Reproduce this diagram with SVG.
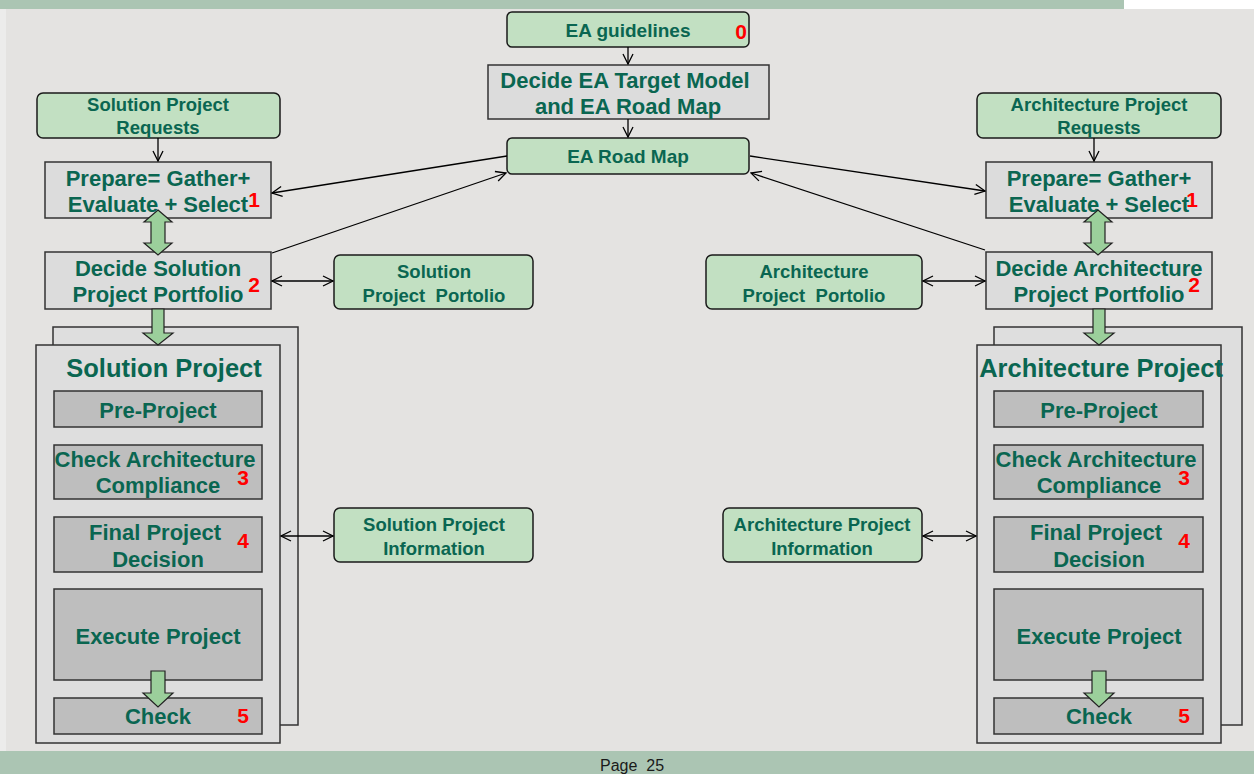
<svg xmlns="http://www.w3.org/2000/svg" width="1254" height="774" viewBox="0 0 1254 774">
  <style>
    .t { font-family: "Liberation Sans", Arial, sans-serif; font-weight: bold; fill: #0A6651; text-anchor: middle; }
    .s { font-size: 18.5px; }
    .m { font-size: 22px; }
    .num { font-family: "Liberation Sans", Arial, sans-serif; font-weight: bold; fill: #FF0000; font-size: 21px; text-anchor: middle; }
    .g { fill: #C2E0C2; stroke: #1A1A1A; stroke-width: 1.5; }
    .box { fill: #DCDCDC; stroke: #333333; stroke-width: 1.5; }
    .inner { fill: #BEBEBE; stroke: #333333; stroke-width: 1.5; }
    .frame { fill: #DEDEDE; stroke: #333333; stroke-width: 1.5; }
    .ln { fill: none; stroke: #000; stroke-width: 1.3; }
    .blk { fill: #9BCF9B; stroke: #222; stroke-width: 1.2; }
  </style>
  <defs>
    <marker id="arr" viewBox="0 0 12 12" refX="11" refY="6" markerWidth="12" markerHeight="12" markerUnits="userSpaceOnUse" orient="auto-start-reverse">
      <path d="M1,1 L11,6 L1,11" fill="none" stroke="#000" stroke-width="1.3"/>
    </marker>
  </defs>

  <!-- page background and bands -->
  <rect x="0" y="0" width="1254" height="774" fill="#E4E3E1"/>
  <rect x="0" y="0" width="6" height="774" fill="#ECECEB"/>
  <rect x="0" y="0" width="1124" height="9" fill="#ABC5B3"/>
  <rect x="1124" y="0" width="130" height="9" fill="#FFFFFF"/>
  <rect x="0" y="751" width="1254" height="23" fill="#ABC5B3"/>
  <text x="632" y="771" font-family="'Liberation Sans', Arial, sans-serif" font-size="16" fill="#1A1A1A" text-anchor="middle" xml:space="preserve">Page  25</text>

  <!-- central column -->
  <g id="ea-guidelines">
    <rect class="g" x="507" y="12" width="242" height="35" rx="5"/>
    <text class="t" x="628" y="37" font-size="19">EA guidelines</text>
    <text class="num" x="741" y="39" font-size="20">0</text>
  </g>
  <g id="decide-ea-target">
    <rect class="box" x="488" y="65" width="281" height="54"/>
    <text class="t m" x="625" y="88">Decide EA Target Model</text>
    <text class="t m" x="628" y="114">and EA Road Map</text>
  </g>
  <g id="ea-road-map">
    <rect class="g" x="507" y="138" width="242" height="36" rx="5"/>
    <text class="t" x="628" y="163" font-size="19">EA Road Map</text>
  </g>

  <!-- solution side -->
  <g id="solution-requests">
    <rect class="g" x="37" y="93" width="243" height="45" rx="6"/>
    <text class="t s" x="158" y="111">Solution Project</text>
    <text class="t s" x="158" y="134">Requests</text>
  </g>
  <g id="solution-prepare">
    <rect class="box" x="45" y="162" width="226" height="56"/>
    <text class="t m" x="158" y="186">Prepare= Gather+</text>
    <text class="t m" x="158" y="212">Evaluate + Select</text>
    <text class="num" x="254" y="207" font-size="22">1</text>
  </g>
  <g id="solution-decide">
    <rect class="box" x="45" y="252" width="226" height="57"/>
    <text class="t m" x="158" y="276">Decide Solution</text>
    <text class="t m" x="158" y="302">Project Portfolio</text>
    <text class="num" x="254" y="292">2</text>
  </g>
  <g id="solution-portfolio">
    <rect class="g" x="334" y="255" width="199" height="54" rx="6"/>
    <text class="t s" x="434" y="278">Solution</text>
    <text class="t s" x="434" y="302" xml:space="preserve">Project  Portolio</text>
  </g>
  <g id="solution-project">
    <rect class="frame" x="53" y="327" width="245" height="398"/>
    <rect class="frame" x="36" y="345" width="244" height="398"/>
    <text class="t" x="164" y="377" font-size="25.5">Solution Project</text>
    <rect class="inner" x="54" y="391" width="208" height="36"/>
    <text class="t m" x="158" y="418">Pre-Project</text>
    <rect class="inner" x="54" y="445" width="208" height="54"/>
    <text class="t m" x="155" y="467">Check Architecture</text>
    <text class="t m" x="158" y="493">Compliance</text>
    <text class="num" x="243" y="485" font-size="22">3</text>
    <rect class="inner" x="54" y="517" width="208" height="55"/>
    <text class="t m" x="155" y="540">Final Project</text>
    <text class="t m" x="158" y="567">Decision</text>
    <text class="num" x="243" y="548" font-size="22">4</text>
    <rect class="inner" x="54" y="589" width="208" height="91"/>
    <text class="t m" x="158" y="644">Execute Project</text>
    <rect class="inner" x="54" y="698" width="208" height="36"/>
    <text class="t m" x="158" y="724">Check</text>
    <text class="num" x="243" y="723" font-size="22">5</text>
  </g>
  <g id="solution-information">
    <rect class="g" x="334" y="508" width="199" height="54" rx="6"/>
    <text class="t s" x="434" y="531">Solution Project</text>
    <text class="t s" x="434" y="555">Information</text>
  </g>

  <!-- architecture side -->
  <g id="architecture-requests">
    <rect class="g" x="977" y="93" width="244" height="45" rx="6"/>
    <text class="t s" x="1099" y="111">Architecture Project</text>
    <text class="t s" x="1099" y="134">Requests</text>
  </g>
  <g id="architecture-prepare">
    <rect class="box" x="986" y="162" width="226" height="56"/>
    <text class="t m" x="1099" y="186">Prepare= Gather+</text>
    <text class="t m" x="1099" y="212">Evaluate + Select</text>
    <text class="num" x="1192" y="207" font-size="22">1</text>
  </g>
  <g id="architecture-decide">
    <rect class="box" x="986" y="252" width="226" height="57"/>
    <text class="t m" x="1099" y="276">Decide Architecture</text>
    <text class="t m" x="1099" y="302">Project Portfolio</text>
    <text class="num" x="1194" y="292">2</text>
  </g>
  <g id="architecture-portfolio">
    <rect class="g" x="706" y="255" width="216" height="54" rx="6"/>
    <text class="t s" x="814" y="278">Architecture</text>
    <text class="t s" x="814" y="302" xml:space="preserve">Project  Portolio</text>
  </g>
  <g id="architecture-project">
    <rect class="frame" x="994" y="327" width="248" height="398"/>
    <rect class="frame" x="977" y="345" width="244" height="398"/>
    <text class="t" x="1101" y="377" font-size="25.5">Architecture Project</text>
    <rect class="inner" x="994" y="391" width="209" height="36"/>
    <text class="t m" x="1099" y="418">Pre-Project</text>
    <rect class="inner" x="994" y="445" width="209" height="54"/>
    <text class="t m" x="1096" y="467">Check Architecture</text>
    <text class="t m" x="1099" y="493">Compliance</text>
    <text class="num" x="1184" y="485" font-size="22">3</text>
    <rect class="inner" x="994" y="517" width="209" height="55"/>
    <text class="t m" x="1096" y="540">Final Project</text>
    <text class="t m" x="1099" y="567">Decision</text>
    <text class="num" x="1184" y="548" font-size="22">4</text>
    <rect class="inner" x="994" y="589" width="209" height="91"/>
    <text class="t m" x="1099" y="644">Execute Project</text>
    <rect class="inner" x="994" y="698" width="209" height="36"/>
    <text class="t m" x="1099" y="724">Check</text>
    <text class="num" x="1184" y="723" font-size="22">5</text>
  </g>
  <g id="architecture-information">
    <rect class="g" x="723" y="508" width="199" height="54" rx="6"/>
    <text class="t s" x="822" y="531">Architecture Project</text>
    <text class="t s" x="822" y="555">Information</text>
  </g>

  <!-- connectors -->
  <g id="connectors">
    <line class="ln" x1="628" y1="47" x2="628" y2="64" marker-end="url(#arr)"/>
    <line class="ln" x1="628" y1="119" x2="628" y2="137" marker-end="url(#arr)"/>
    <line class="ln" x1="158" y1="138" x2="158" y2="161" marker-end="url(#arr)"/>
    <line class="ln" x1="1094" y1="138" x2="1094" y2="161" marker-end="url(#arr)"/>

    <line class="ln" x1="507" y1="156" x2="272" y2="193" marker-end="url(#arr)"/>
    <line class="ln" x1="272" y1="253" x2="506" y2="173" marker-end="url(#arr)"/>
    <line class="ln" x1="750" y1="156" x2="985" y2="191" marker-end="url(#arr)"/>
    <line class="ln" x1="985" y1="250" x2="751" y2="173" marker-end="url(#arr)"/>

    <line class="ln" x1="272" y1="281" x2="333" y2="281" marker-start="url(#arr)" marker-end="url(#arr)"/>
    <line class="ln" x1="923" y1="281" x2="985" y2="281" marker-start="url(#arr)" marker-end="url(#arr)"/>
    <line class="ln" x1="281" y1="536" x2="333" y2="536" marker-start="url(#arr)" marker-end="url(#arr)"/>
    <line class="ln" x1="923" y1="536" x2="976" y2="536" marker-start="url(#arr)" marker-end="url(#arr)"/>

    <!-- block arrows -->
    <path class="blk" d="M158,210 L172,222 L165,222 L165,243 L172,243 L158,255 L144,243 L151,243 L151,222 L144,222 Z"/>
    <path class="blk" d="M1098,210 L1112,222 L1105,222 L1105,243 L1112,243 L1098,255 L1084,243 L1091,243 L1091,222 L1084,222 Z"/>
    <path class="blk" d="M152,309 L164,309 L164,333 L173,333 L158,345 L143,333 L152,333 Z"/>
    <path class="blk" d="M1093,309 L1105,309 L1105,333 L1114,333 L1099,345 L1084,333 L1093,333 Z"/>
    <path class="blk" d="M151,671 L165,671 L165,693 L173,693 L158,707 L143,693 L151,693 Z"/>
    <path class="blk" d="M1092,671 L1106,671 L1106,693 L1114,693 L1099,707 L1084,693 L1092,693 Z"/>
  </g>
</svg>
